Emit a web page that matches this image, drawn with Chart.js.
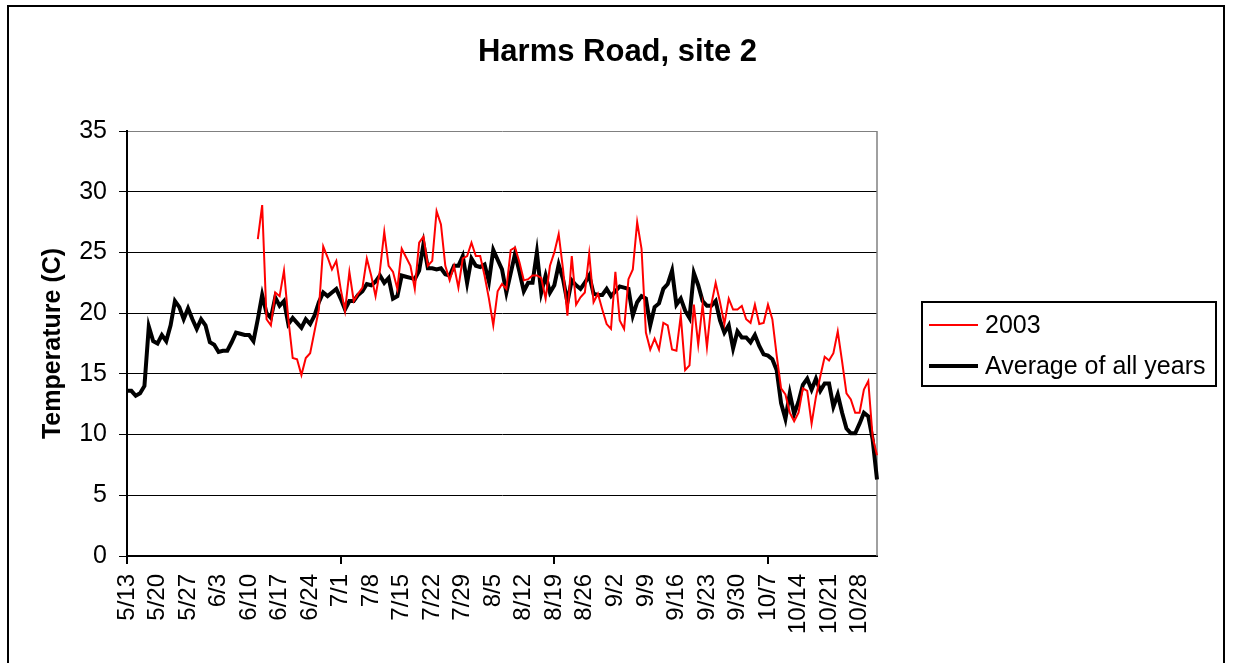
<!DOCTYPE html>
<html>
<head>
<meta charset="utf-8">
<title>Harms Road, site 2</title>
<script src="https://cdn.jsdelivr.net/npm/chart.js@4.4.1/dist/chart.umd.min.js"></script>
<style>
  html, body { margin: 0; padding: 0; background: #fff; }
  #wrap { width: 1235px; height: 663px; }
</style>
</head>
<body>
<div id="wrap"><canvas id="tempChart" width="1235" height="663"></canvas></div>
<script>
// daily water temperature (C), 5/13 to 11/1

const weekLabels = ['5/13', '5/20', '5/27', '6/3', '6/10', '6/17', '6/24', '7/1', '7/8',
  '7/15', '7/22', '7/29', '8/5', '8/12', '8/19', '8/26', '9/2', '9/9', '9/16', '9/23',
  '9/30', '10/7', '10/14', '10/21', '10/28']

const avgTemps = [
  13.6, 13.6, 13.2, 13.4, 14.0, 18.9, 17.7, 17.5, 18.2, 17.7,
  19.0, 21.0, 20.5, 19.5, 20.4, 19.5, 18.7, 19.5, 19.0, 17.6,
  17.4, 16.8, 16.9, 16.9, 17.6, 18.4, 18.3, 18.2, 18.2, 17.7,
  19.5, 21.5, 20.0, 19.6, 21.3, 20.6, 21.0, 19.1, 19.6, 19.2,
  18.8, 19.5, 19.1, 19.8, 20.9, 21.7, 21.4, 21.7, 22.0, 21.2,
  20.3, 21.0, 21.0, 21.5, 21.8, 22.4, 22.3, 22.6, 23.1, 22.5,
  22.9, 21.2, 21.4, 23.1, 23.0, 22.9, 22.8, 23.5, 25.7, 23.7,
  23.7, 23.6, 23.7, 23.2, 23.1, 23.9, 23.9, 24.7, 22.5, 24.5,
  23.9, 23.8, 24.0, 22.6, 25.2, 24.4, 23.6, 21.7, 23.3, 24.9,
  23.4, 21.8, 22.5, 22.5, 25.0, 21.7, 23.1, 21.7, 22.3, 24.0,
  22.8, 20.9, 22.7, 22.3, 22.0, 22.5, 23.1, 21.6, 21.5, 21.5,
  22.0, 21.4, 21.8, 22.2, 22.1, 22.0, 19.8, 20.9, 21.4, 21.2,
  19.0, 20.5, 20.8, 22.0, 22.4, 23.5, 20.7, 21.2, 20.2, 19.6,
  23.3, 22.3, 21.0, 20.6, 20.6, 21.0, 19.4, 18.4, 19.0, 17.1,
  18.5, 18.0, 18.0, 17.6, 18.2, 17.3, 16.6, 16.5, 16.2, 15.3,
  12.6, 11.3, 13.4, 11.7, 12.7, 14.1, 14.6, 13.7, 14.6, 13.6,
  14.2, 14.2, 12.3, 13.3, 11.8, 10.5, 10.1, 10.1, 10.9, 11.8,
  11.5, 9.6, 6.3
]

// no 2003 readings before 6/12
const temps2003 = [
  null, null, null, null, null, null, null, null, null, null,
  null, null, null, null, null, null, null, null, null, null,
  null, null, null, null, null, null, null, null, null, null,
  26.1, 28.9, 19.5, 19.0, 21.7, 21.4, 23.5, 19.5, 16.3, 16.2,
  14.9, 16.3, 16.7, 18.5, 20.3, 25.5, 24.6, 23.6, 24.3, 22.0,
  20.2, 23.4, 21.0, 21.6, 22.1, 24.5, 23.1, 21.4, 23.5, 26.7,
  23.9, 23.4, 22.0, 25.3, 24.6, 23.9, 22.0, 25.8, 26.3, 23.9,
  24.3, 28.4, 27.3, 23.9, 22.7, 23.9, 22.1, 24.5, 24.7, 25.8,
  24.7, 24.7, 23.1, 21.2, 19.0, 21.8, 22.4, 22.0, 25.2, 25.4,
  24.2, 22.7, 22.8, 23.1, 23.1, 22.9, 21.2, 23.9, 25.0, 26.5,
  23.6, 19.8, 24.7, 20.7, 21.3, 21.7, 24.9, 20.9, 21.6, 20.3,
  19.1, 18.7, 23.4, 19.4, 18.7, 22.8, 23.6, 27.5, 25.3, 18.4,
  17.0, 17.9, 17.0, 19.2, 19.0, 17.0, 16.9, 19.8, 15.3, 15.7,
  20.7, 17.4, 20.7, 17.2, 20.7, 22.5, 20.9, 19.1, 21.2, 20.3,
  20.3, 20.6, 19.5, 19.2, 20.7, 19.1, 19.2, 20.7, 19.5, 16.5,
  13.8, 13.3, 11.8, 11.1, 11.8, 13.8, 13.6, 10.9, 13.1, 14.8,
  16.4, 16.1, 16.7, 18.5, 16.0, 13.4, 12.9, 11.8, 11.8, 13.7,
  14.4, 9.8, 8.3
]

// one category per day
let days = []
for (let i = 0; i < avgTemps.length; i++) {
  let d = new Date(2003, 4, 13 + i)
  days.push((d.getMonth() + 1) + '/' + d.getDate())
}

Chart.defaults.font.family = "'Liberation Sans', Arial, sans-serif"
Chart.defaults.color = '#000'

/* white page with the outer frame and the grey plot border */
const frame = {
  id: 'frame',
  beforeDraw: (chart) => {
    const c = chart.ctx
    c.save()
    c.fillStyle = '#fff'
    c.fillRect(0, 0, chart.width, chart.height)
    c.strokeStyle = '#000'
    c.lineWidth = 2
    c.strokeRect(8, 6, 1216, 680)
    c.restore()
  },
  beforeDatasetsDraw: (chart) => {
    const a = chart.chartArea
    const c = chart.ctx
    c.save()
    c.strokeStyle = '#808080'
    c.lineWidth = 1.5
    c.beginPath()
    c.moveTo(a.right, a.top)
    c.lineTo(a.right, a.bottom)
    c.stroke()
    c.restore()
  }
}

/* boxed legend to the right of the plot, Excel style */
const boxLegend = {
  id: 'boxLegend',
  afterDraw: (chart) => {
    const c = chart.ctx
    const left = chart.chartArea.right + 45
    const top = 302
    c.save()
    c.strokeStyle = '#000'
    c.lineWidth = 2
    c.strokeRect(left, top, 294, 84)
    c.font = "25px 'Liberation Sans', Arial, sans-serif"
    c.textBaseline = 'middle'
    c.fillStyle = '#000'
    chart.data.datasets.forEach((ds, i) => {
      const y = top + 23 + i * 41
      c.strokeStyle = ds.borderColor
      c.lineWidth = ds.borderWidth
      c.beginPath()
      c.moveTo(left + 7, y)
      c.lineTo(left + 56, y)
      c.stroke()
      c.fillText(ds.label, left + 63, y + 1)
    })
    c.restore()
  }
}

const tempChart = new Chart('tempChart', {
  type: 'line',
  data: {
    labels: days,
    datasets: [
      {
        label: '2003',
        data: temps2003,
        borderColor: '#ff0000',
        borderWidth: 2,
        pointRadius: 0,
        tension: 0
      },
      {
        label: 'Average of all years',
        data: avgTemps,
        borderColor: '#000000',
        borderWidth: 4,
        pointRadius: 0,
        tension: 0
      }
    ]
  },
  options: {
    responsive: false,
    animation: false,
    devicePixelRatio: 1,
    layout: { padding: 0 },
    plugins: {
      legend: { display: false },
      tooltip: { enabled: false },
      title: {
        display: true,
        text: 'Harms Road, site 2',
        color: '#000',
        font: { size: 31, weight: 'bold' },
        padding: { top: 34, bottom: 59.8 }
      }
    },
    scales: {
      x: {
        type: 'category',
        offset: false,
        grid: {
          drawOnChartArea: false,
          tickLength: 8,
          lineWidth: 2,
          tickColor: (ctx) => (ctx.index % 7 === 0 ? '#000' : 'rgba(0,0,0,0)')
        },
        border: { color: '#000', width: 2 },
        ticks: {
          autoSkip: false,
          minRotation: 90,
          maxRotation: 90,
          padding: 10,
          font: { size: 24 },
          callback: function (value) {
            let lbl = this.getLabelForValue(value)
            return weekLabels.includes(lbl) ? lbl : null
          }
        },
        afterFit: (s) => { s.height = 107 }
      },
      y: {
        min: 0,
        max: 35,
        ticks: { stepSize: 5, padding: 12, font: { size: 25 } },
        grid: {
          color: (ctx) => (ctx.tick && ctx.tick.value === 35 ? '#808080' : '#000'),
          tickColor: '#000',
          tickLength: 8,
          lineWidth: 1
        },
        border: { color: '#000', width: 2 },
        title: {
          display: true,
          text: 'Temperature (C)',
          font: { size: 25, weight: 'bold' },
          padding: { top: 38, bottom: 0 }
        },
        afterFit: (s) => { s.width = 127 }
      },
      // empty axis that only keeps room for the legend box
      legendRoom: {
        type: 'linear',
        position: 'right',
        display: true,
        grid: { display: false },
        border: { display: false },
        ticks: { display: false },
        afterFit: (s) => { s.width = 358 }
      }
    }
  },
  plugins: [frame, boxLegend]
})
</script>
</body>
</html>
